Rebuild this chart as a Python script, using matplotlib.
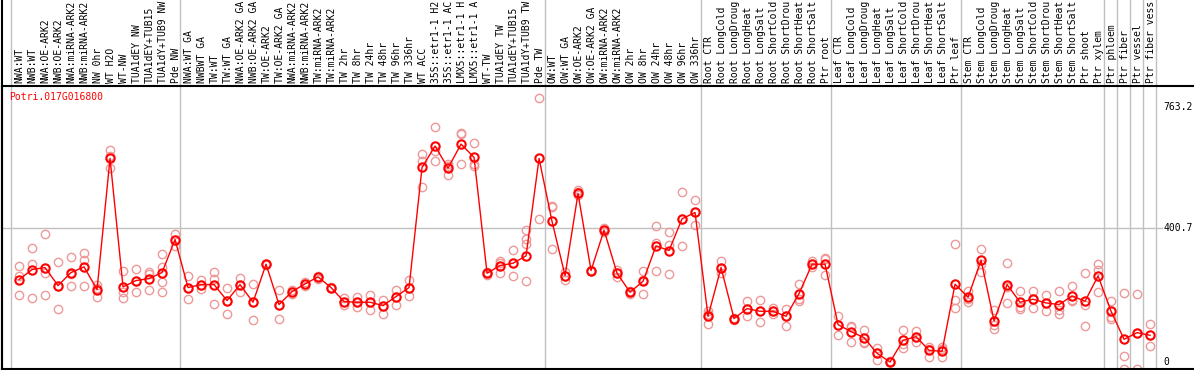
import matplotlib
matplotlib.use("Agg")
from matplotlib import pyplot as plt
import matplotlib.transforms as mtransforms

## Dados

labels = [
    "NWA:WT", "NWB:WT", "NWA:OE-ARK2", "NWB:OE-ARK2", "NWA:miRNA-ARK2", "NWB:miRNA-ARK2",
    "NW 0hr", "WT H2O", "WT-NW", "TUA1dEY NW", "TUA1dEY+TUB15", "TUA1dY+TUB9 NW", "Pde NW",
    "NWA:WT GA", "NWBWT GA", "TW:WT", "TW:WT GA", "NWA:OE-ARK2 GA", "NWB:OE-ARK2 GA",
    "TW:OE-ARK2", "TW:OE-ARK2 GA", "NWA:miRNA-ARK2", "NWB:miRNA-ARK2", "TW:miRNA-ARK2",
    "TW:miRNA-ARK2", "TW 2hr", "TW 8hr", "TW 24hr", "TW 48hr", "TW 96hr", "TW 336hr", "WT ACC",
    "35S::etr1-1 H2", "35S::etr1-1 AC", "LMX5::etr1-1 H", "LMX5::etr1-1 A", "WT-TW",
    "TUA1dEY TW", "TUA1dEY+TUB15", "TUA1dY+TUB9 TW", "Pde TW",
    "OW:WT", "OW:WT GA", "OW:OE-ARK2", "OW:OE-ARK2 GA", "OW:miRNA-ARK2", "OW:miRNA-ARK2",
    "OW 2hr", "OW 8hr", "OW 24hr", "OW 48hr", "OW 96hr", "OW 336hr",
    "Root CTR", "Root LongCold", "Root LongDroug", "Root LongHeat", "Root LongSalt",
    "Root ShortCold", "Root ShortDrou", "Root ShortHeat", "Root ShortSalt", "Ptr root",
    "Leaf CTR", "Leaf LongCold", "Leaf LongDroug", "Leaf LongHeat", "Leaf LongSalt",
    "Leaf ShortCold", "Leaf ShortDrou", "Leaf ShortHeat", "Leaf ShortSalt", "Ptr leaf",
    "Stem CTR", "Stem LongCold", "Stem LongDroug", "Stem LongHeat", "Stem LongSalt",
    "Stem ShortCold", "Stem ShortDrou", "Stem ShortHeat", "Stem ShortSalt", "Ptr shoot",
    "Ptr xylem", "Ptr phloem", "Ptr fiber", "Ptr vessel", "Ptr fiber vess",
]

medias = [
    247, 277, 283, 229, 268, 285, 217, 610, 225, 244, 250, 268, 367,
    223, 232, 232, 184, 232, 179, 293, 172, 211, 234, 255, 223, 181, 179, 179, 169, 196,
    223, 583, 647, 581, 653, 613, 266, 289, 296, 318, 610,
    421, 259, 505, 274, 395, 266, 209, 242, 348, 334, 429, 448,
    137, 283, 130, 160, 152, 152, 137, 205, 293, 293,
    112, 91, 73, 26, 0, 65, 76, 35, 32, 233,
    194, 305, 123, 232, 179, 188, 177, 172, 198, 182, 258, 152, 68, 88, 80,
]

replicas = [
    [287, 257, 202], [341, 295, 193], [383, 267, 200], [301, 229, 158], [314, 263, 227],
    [326, 305, 227], [232, 223, 195], [634, 616, 580], [274, 209, 193], [280, 244, 209],
    [270, 263, 217], [323, 285, 241, 211], [385, 367, 347],
    [259, 221, 189], [246, 232, 218], [269, 250, 175], [223, 184, 145], [252, 232, 211],
    [235, 179, 125], [293, 293, 290], [217, 172, 130], [217, 211, 205], [239, 234, 228],
    [259, 255, 250], [225, 223, 221], [193, 181, 170], [195, 179, 165], [200, 179, 157],
    [185, 169, 145], [217, 196, 172], [247, 223, 197], [623, 603, 523], [703, 633, 601],
    [593, 587, 559], [687, 683, 593], [655, 593, 587], [269, 266, 262], [303, 297, 266],
    [335, 296, 258], [397, 370, 355, 243], [790, 427],
    [468, 463, 340], [269, 259, 246], [515, 510, 500], [276, 274, 272], [403, 395, 389],
    [275, 266, 255], [213, 209, 205], [274, 245, 203], [406, 357, 274], [391, 350, 263],
    [509, 429, 347], [485, 448, 409],
    [153, 143, 115], [302, 283, 267], [132, 130, 127], [182, 160, 139], [187, 152, 120],
    [161, 152, 143], [158, 137, 109], [235, 189, 184], [303, 293, 285], [312, 308, 262],
    [139, 112, 82], [109, 105, 61], [95, 60, 57], [42, 26, 7], [4, 1, 0],
    [97, 55, 43], [93, 76, 60], [45, 40, 15], [45, 38, 15], [353, 185, 163],
    [212, 190, 181], [340, 295, 270], [155, 110, 98], [296, 225, 176], [212, 165, 160],
    [212, 190, 162], [200, 177, 153], [212, 155, 145], [227, 185, 182], [266, 170, 109],
    [293, 277, 211], [183, 135, 129], [208, 19, -22], [203, 88, -22], [113, 80, 49],
]

fim_grupos = [13, 41, 53, 63, 73, 84, 85, 86, 87, 88]
valores_eixo = [763.2, 400.7, 0]
rotulos_eixo = ["763.2", "400.7", "0"]
gene = "Potri.017G016800"

## Figura

W, H = 1194, 370
fig = plt.figure(figsize=(W / 100, H / 100), dpi=100)
ax = fig.add_axes([2 / W, 1 / H, 1192 / W, 283 / H])
fig.patch.set_facecolor("white")

xs = list(range(1, len(medias) + 1))
ax.set_xlim(-0.31, 91.38)
ax.set_ylim(-21, 827)

topo = 369 / 283  # ate o topo da figura, em coordenadas do eixo

# linhas de grade
ax.axvline(0.36, ymin=0, ymax=topo, color="#c0c0c0", lw=1, clip_on=False, zorder=0)
for g in fim_grupos:
    ax.axvline(g + 0.42, ymin=0, ymax=topo, color="#c0c0c0", lw=1, clip_on=False, zorder=0)
ax.axhline(valores_eixo[1], xmin=0, xmax=1160 / 1192, color="#c0c0c0", lw=1, zorder=0)

# replicas
for x, reps in zip(xs, replicas):
    ax.plot([x] * len(reps), reps, linestyle="none", marker="o", markersize=6,
            markerfacecolor="none", markeredgecolor="#ee9999", markeredgewidth=1.0, zorder=2)

# medias
ax.plot(xs, medias, color="red", lw=1, marker="o", markersize=6,
        markerfacecolor="none", markeredgecolor="red", markeredgewidth=1.5, zorder=3)

# rotulos das colunas
trans = mtransforms.blended_transform_factory(ax.transData, ax.transAxes)
for x, lab in zip(xs, labels):
    ax.text(x + 0.05, 1 + 3 / 283, lab, rotation=90, ha="center", va="bottom",
            fontsize=7, family="DejaVu Sans Mono", transform=trans, clip_on=False)

# valores do eixo a direita
for v, r in zip(valores_eixo, rotulos_eixo):
    ax.text(89.0, v, r, ha="left", va="center", fontsize=7, family="DejaVu Sans Mono")

ax.text(0.0061, 0.961, gene, color="red", fontsize=7, family="DejaVu Sans Mono",
        ha="left", va="center", transform=ax.transAxes)

for s in ["top", "bottom", "left"]:
    ax.spines[s].set_linewidth(1.5)
    ax.spines[s].set_color("black")
ax.spines["right"].set_visible(False)
ax.plot([0, 0], [0, topo], transform=ax.transAxes, color="black", lw=1.5, clip_on=False)
ax.set_xticks([])
ax.set_yticks([])

fig.savefig("out.png", dpi=100)
